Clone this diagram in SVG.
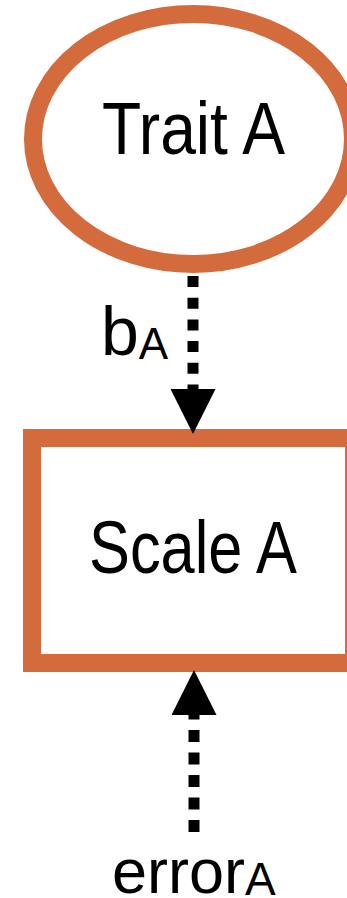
<svg xmlns="http://www.w3.org/2000/svg" width="347" height="898" viewBox="0 0 347 898">
<style>
.node{fill:#ffffff;stroke:#D46B3D;stroke-width:18}
.lbl{font-family:"Liberation Sans",Arial,sans-serif;fill:#000000}
.conn{fill:none;stroke:#000000;stroke-width:11}
</style>
<defs>
<marker id="arr" viewBox="0 0 45 45" refX="0" refY="22.5" markerWidth="45" markerHeight="45" markerUnits="userSpaceOnUse" orient="auto">
<path d="M0,0 L45,22.5 L0,45 z" fill="#000000"/>
</marker>
</defs>
<rect width="347" height="898" fill="#ffffff"/>
<g id="trait-a">
<ellipse class="node" cx="193" cy="139" rx="160" ry="125"/>
<text class="lbl" x="193.5" y="154" font-size="74" text-anchor="middle" textLength="183" lengthAdjust="spacingAndGlyphs">Trait A</text>
</g>
<g id="scale-a">
<rect class="node" x="32" y="438" width="322" height="225"/>
<text class="lbl" x="193" y="573" font-size="75" text-anchor="middle" textLength="208" lengthAdjust="spacingAndGlyphs">Scale A</text>
</g>
<g id="connectors">
<path class="conn" d="M193,276 V389" stroke-dasharray="11 10.7" marker-end="url(#arr)"/>
<path class="conn" d="M194,832 V715" stroke-dasharray="12 10.5" marker-end="url(#arr)"/>
</g>
<g id="label-bA">
<text class="lbl" x="101" y="355" font-size="68">b<tspan font-size="44" dy="4">A</tspan></text>
</g>
<g id="label-errorA">
<text class="lbl" x="112" y="893" font-size="63">error<tspan font-size="46" dy="2">A</tspan></text>
</g>
</svg>
